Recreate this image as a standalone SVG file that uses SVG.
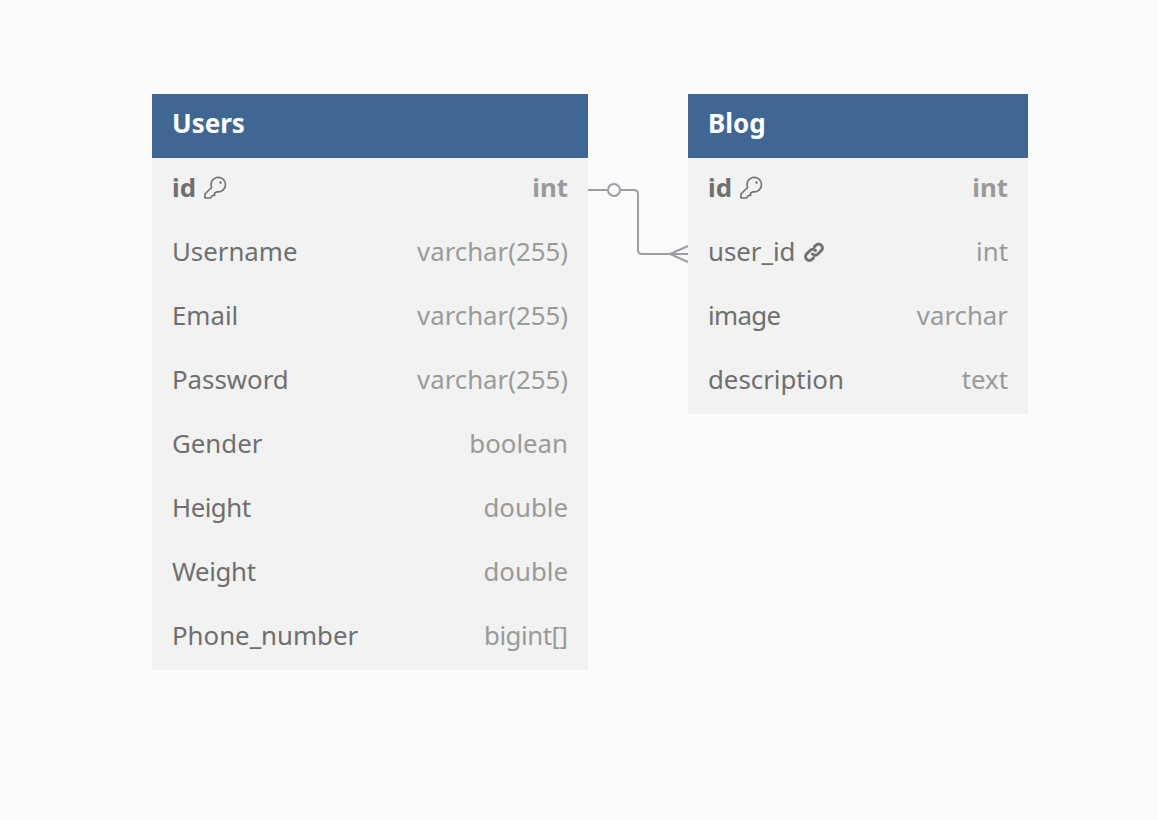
<svg xmlns="http://www.w3.org/2000/svg" width="1158" height="820" viewBox="0 0 1158 820">
<style>
text{font-family:"Noto Sans","Open Sans",sans-serif;font-size:25.8px}
.h{fill:#fff;font-weight:700;font-size:26px}
.n{fill:#6f6f6f}
.t{fill:#9a9a9a;text-anchor:end}
.b{font-weight:700}
.hd{fill:#406793}
.bd{fill:#f2f2f2}
.conn{fill:none;stroke:#9d9da6;stroke-width:2}
.ic{fill:none;stroke:#737373;stroke-width:1.7;stroke-linejoin:round;stroke-linecap:round}
.lk{stroke-width:3}
.dot{fill:#737373}
</style>
<defs>
<g id="key"><path class="ic" d="M7.5 10.5 L1 17 L1 21 L6.5 21 L8.5 18.5 L10.5 18.5 L10.5 16.2 L13 14.8 A7.3 7.3 0 1 0 7.5 10.5 Z"/><circle cx="16.5" cy="5.5" r="1.3" class="dot"/></g>
<g id="link"><path class="ic lk" d="M8.5 12 a3.8 3.8 0 0 0 5.4 0 l3.4-3.4 a3.8 3.8 0 0 0-5.4-5.4 l-1.4 1.4 M11.5 8.5 a3.8 3.8 0 0 0-5.4 0 l-3.4 3.4 a3.8 3.8 0 0 0 5.4 5.4 l1.4-1.4"/></g>
</defs>
<rect width="1158" height="820" fill="#fbfbfb"/>
<g id="users">
<rect class="bd" x="152" y="158" width="436" height="512"/>
<rect class="hd" x="152" y="94" width="436" height="64"/>
<text class="h" x="172" y="133">Users</text>
<text class="n b" x="172" y="197">id</text><use href="#key" x="204" y="177"/><text class="t b" x="568" y="197">int</text>
<text class="n" x="172" y="261">Username</text><text class="t" x="568" y="261">varchar(255)</text>
<text class="n" x="172" y="325">Email</text><text class="t" x="568" y="325">varchar(255)</text>
<text class="n" x="172" y="389">Password</text><text class="t" x="568" y="389">varchar(255)</text>
<text class="n" x="172" y="453">Gender</text><text class="t" x="568" y="453">boolean</text>
<text class="n" x="172" y="517" textLength="79">Height</text><text class="t" x="568" y="517">double</text>
<text class="n" x="172" y="581" textLength="84">Weight</text><text class="t" x="568" y="581">double</text>
<text class="n" x="172" y="645">Phone_number</text><text class="t" x="568" y="645" textLength="84">bigint[]</text>
</g>
<g id="blog">
<rect class="bd" x="688" y="158" width="340" height="256"/>
<rect class="hd" x="688" y="94" width="340" height="64"/>
<text class="h" x="708" y="133">Blog</text>
<text class="n b" x="708" y="197">id</text><use href="#key" x="740" y="177"/><text class="t b" x="1008" y="197">int</text>
<text class="n" x="708" y="261">user_id</text><use href="#link" x="804" y="242"/><text class="t" x="1008" y="261">int</text>
<text class="n" x="708" y="325" textLength="73">image</text><text class="t" x="1008" y="325">varchar</text>
<text class="n" x="708" y="389">description</text><text class="t" x="1008" y="389">text</text>
</g>
<g id="connectors">
<path class="conn" d="M588 190 H634 Q638 190 638 194 V250 Q638 254 642 254 H688"/>
<path class="conn" d="M688 246 L670 254 L688 262"/>
<circle class="conn" cx="614" cy="190" r="6" style="fill:#fbfbfb"/>
</g>
</svg>
